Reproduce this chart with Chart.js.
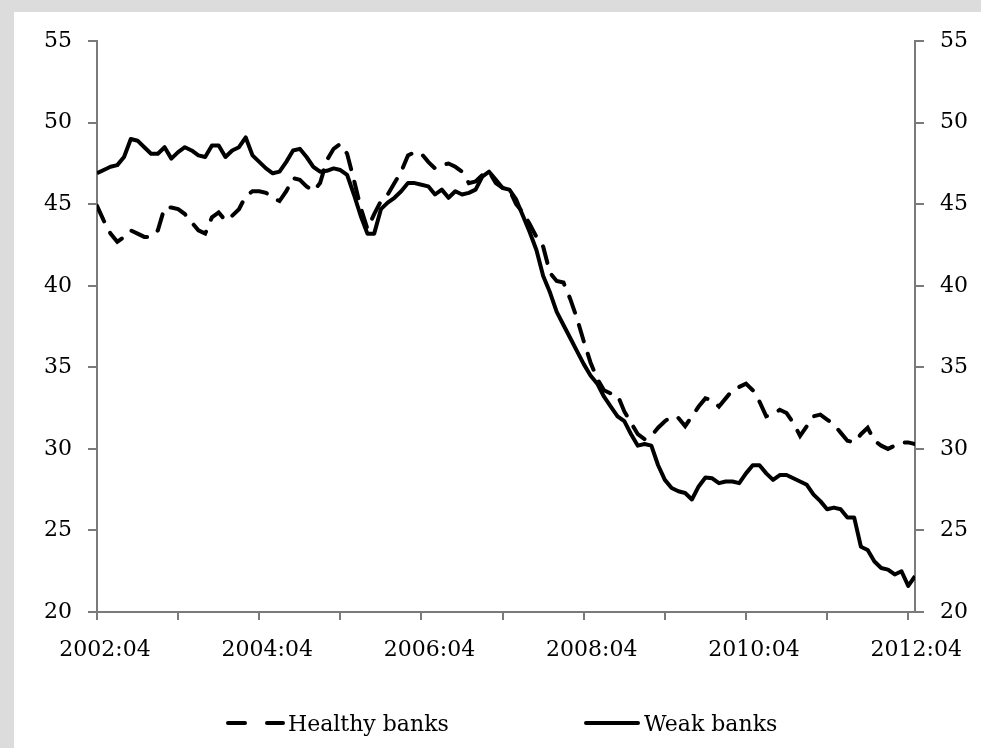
<!DOCTYPE html>
<html lang="en">
<head>
<meta charset="UTF-8">
<title>Healthy vs weak banks</title>
<script src="https://cdn.jsdelivr.net/npm/chart.js"></script>
<style>
  body { margin: 0; background: #dcdcdc; width: 981px; height: 748px; overflow: hidden; }
  #panel { position: absolute; left: 14px; top: 12px; width: 967px; height: 736px; background: #fff; }
  .item { position: absolute; top: 708px; height: 30px; display: flex; align-items: center;
          font: 22px 'DejaVu Serif', serif; color: #000; }
  .seg { display: inline-block; height: 4px; background: #000; border-radius: 2px; }
</style>
</head>
<body>
<div id="panel"><canvas id="lineGraph" width="967" height="736"></canvas></div>
<div class="item" style="left:226px">
  <span class="seg" style="width:21px"></span>
  <span class="seg" style="width:20px; margin-left:18px; margin-right:3px"></span>
  <span>Healthy banks</span>
</div>
<div class="item" style="left:584px">
  <span class="seg" style="width:56px; margin-right:4px"></span>
  <span>Weak banks</span>
</div>
<script>
// monthly, 2002:04 .. 2012:05
const months = [];
for (let i = 0; i < 122; i++) {
  const m = 3 + i;
  const yr = 2002 + Math.floor(m / 12);
  const mo = (m % 12) + 1;
  months.push(yr + ':' + (mo < 10 ? '0' + mo : mo));
}
const xTickLabels = ['2002:04', '2004:04', '2006:04', '2008:04', '2010:04', '2012:04'];
const yTicks = [20, 25, 30, 35, 40, 45, 50, 55];

const healthy = [
  44.9, 44.0, 43.2, 42.7, 43.0, 43.4, 43.2, 43.0, 43.0, 43.4,
  44.8, 44.8, 44.7, 44.4, 43.9, 43.4, 43.2, 44.2, 44.5, 44.0,
  44.3, 44.7, 45.5, 45.8, 45.8, 45.7, 45.4, 45.2, 45.8, 46.6,
  46.5, 46.1, 45.8, 46.3, 47.7, 48.4, 48.7, 48.1, 46.5, 44.8,
  43.5, 44.4, 45.2, 45.6, 46.3, 47.0, 48.0, 48.2, 48.1, 47.6,
  47.2, 47.4, 47.5, 47.3, 47.0, 46.3, 46.4, 46.8, 47.0, 46.3,
  46.0, 45.9, 45.0, 44.5, 43.8, 43.0, 42.4, 40.8, 40.3, 40.2,
  39.2, 38.0, 36.6, 35.3, 34.3, 33.6, 33.4, 33.3, 32.3, 31.6,
  30.9, 30.6, 30.8, 31.3, 31.7, 32.0, 31.9, 31.4, 32.0, 32.6,
  33.1, 33.0, 32.6, 33.1, 33.6, 33.8, 34.0, 33.6, 32.9, 32.0,
  32.1, 32.4, 32.2, 31.6, 30.8, 31.4, 32.0, 32.1, 31.8, 31.5,
  31.0, 30.5, 30.4, 30.9, 31.3, 30.5, 30.2, 30.0, 30.2, 30.4,
  30.4, 30.3
];
const weak = [
  46.9, 47.1, 47.3, 47.4, 47.9, 49.0, 48.9, 48.5, 48.1, 48.1,
  48.5, 47.8, 48.2, 48.5, 48.3, 48.0, 47.9, 48.6, 48.6, 47.9,
  48.3, 48.5, 49.1, 48.0, 47.6, 47.2, 46.9, 47.0, 47.6, 48.3,
  48.4, 47.9, 47.3, 47.0, 47.05, 47.2, 47.1, 46.8, 45.6, 44.3,
  43.2, 43.2, 44.7, 45.1, 45.4, 45.8, 46.3, 46.3, 46.2, 46.1,
  45.6, 45.9, 45.4, 45.8, 45.6, 45.7, 45.9, 46.7, 47.0, 46.5,
  46.0, 45.9, 45.3, 44.3, 43.3, 42.2, 40.6, 39.6, 38.4, 37.6,
  36.8, 36.0, 35.2, 34.5, 34.0, 33.2, 32.6, 32.0, 31.7, 30.9,
  30.2, 30.3, 30.2, 29.0, 28.1, 27.6, 27.4, 27.3, 26.9, 27.7,
  28.25, 28.2, 27.9, 28.0, 28.0, 27.9, 28.5, 29.0, 29.0, 28.5,
  28.1, 28.4, 28.4, 28.2, 28.0, 27.8, 27.2, 26.8, 26.3, 26.4,
  26.3, 25.8, 25.8, 24.0, 23.8, 23.1, 22.7, 22.6, 22.3, 22.5,
  21.6, 22.2
];

Chart.defaults.font.family = "'DejaVu Serif', serif";
Chart.defaults.font.size = 22;
Chart.defaults.color = '#000';

const axisColor = '#7a7a7a';

function yAxis(position, width) {
  return {
    type: 'linear',
    position: position,
    min: 20,
    max: 55,
    afterBuildTicks: s => { s.ticks = yTicks.map(v => ({ value: v })); },
    afterFit: s => { s.width = width; },
    border: { color: axisColor, width: 2 },
    grid: { drawOnChartArea: false, drawTicks: true, tickLength: 9, color: axisColor, lineWidth: 2 },
    ticks: { padding: 16 }
  };
}

new Chart(document.getElementById('lineGraph'), {
  type: 'line',
  data: {
    datasets: [{
      label: 'Healthy banks',
      data: healthy.map((v, i) => ({ x: i, y: v })),
      borderColor: '#000',
      borderWidth: 4,
      borderDash: [17, 13],
      borderCapStyle: 'round',
      pointRadius: 0,
      tension: 0,
      yAxisID: 'y'
    }, {
      label: 'Weak banks',
      data: weak.map((v, i) => ({ x: i, y: v })),
      borderColor: '#000',
      borderWidth: 4,
      borderJoinStyle: 'round',
      pointRadius: 0,
      tension: 0,
      yAxisID: 'y'
    }]
  },
  options: {
    responsive: false,
    animation: false,
    layout: { padding: { top: 27, left: 0, right: 0, bottom: 0 } },
    plugins: { legend: { display: false }, tooltip: { enabled: false } },
    scales: {
      x: {
        type: 'linear',
        min: 0,
        max: 121,
        afterFit: s => { s.height = 136; },
        border: { color: axisColor, width: 2 },
        grid: { drawOnChartArea: false, drawTicks: true, tickLength: 8, color: axisColor, lineWidth: 2 },
        ticks: {
          stepSize: 12,
          includeBounds: false,
          autoSkip: false,
          maxRotation: 0,
          padding: 17,
          labelOffset: 8,
          callback: v => xTickLabels.includes(months[v]) ? months[v] : ''
        }
      },
      y: yAxis('left', 83),
      y2: yAxis('right', 66)
    }
  }
});
</script>
</body>
</html>
